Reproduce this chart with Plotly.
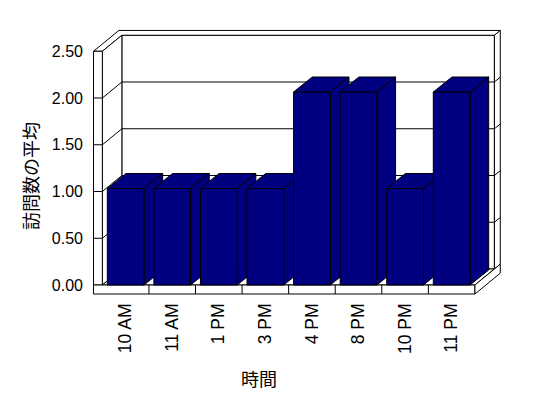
import plotly.graph_objects as go

# ---- data ----
categories = ["10 AM", "11 AM", "1 PM", "3 PM", "4 PM", "8 PM", "10 PM", "11 PM"]
values = [1.0, 1.0, 1.0, 1.0, 2.0, 2.0, 1.0, 2.0]
y_ticks = [0, 0.5, 1.0, 1.5, 2.0, 2.5]
y_tick_labels = ["0.00", "0.50", "1.00", "1.50", "2.00", "2.50"]
y_title = "訪問数の平均"
x_title = "時間"

# ---- geometry (pixels of the 548x398 page) ----
W, H = 548, 398
PL, PR, PT, PB = 93, 501, 29, 295          # plot area
X0PX, XSTEP = 125.65, 46.57                # first category centre, px per category
Y0PX, YSTEP = 285.0, 93.5                  # value 0 on the front plane, px per unit (axis)
YSTEP_BAR = 96.5                           # px per unit for the bars (Excel 3-D quirk)

xr = [(PL - X0PX) / XSTEP, (PR - X0PX) / XSTEP]
yr = [(Y0PX - PB) / YSTEP, (Y0PX - PT) / YSTEP]
y2r = [(Y0PX - PB) / YSTEP_BAR, (Y0PX - PT) / YSTEP_BAR]

n = len(categories)
ymax = y_ticks[-1]
DX, DY = 19.5 / XSTEP, 16.0 / YSTEP        # full depth of the box
BX, BY = 18.7 / XSTEP, 15.0 / YSTEP_BAR    # depth of a bar
TX = 0.19                                  # left wall thickness
TY = 9.0 / YSTEP                           # floor thickness
TZ = 1.3                                   # back wall outer depth
BW = 0.788                                 # bar width
x_lo, x_hi = -0.5, n - 0.5
NAVY = "#000080"


def P(x, y, z):
    return (x + z * DX, y + z * DY)


def poly(pts, fill="white", yref="y"):
    path = "M " + " L ".join(f"{x:.4f},{y:.4f}" for x, y in pts) + " Z"
    return dict(type="path", path=path, xref="x", yref=yref, fillcolor=fill,
                line=dict(color="black", width=1), layer="below")


def seg(p, q, yref="y"):
    return dict(type="line", x0=p[0], y0=p[1], x1=q[0], y1=q[1], xref="x", yref=yref,
                line=dict(color="black", width=1), layer="below")


shapes = []
# back wall front face + gridlines
shapes.append(poly([P(x_lo, 0, 1), P(x_hi, 0, 1), P(x_hi, ymax, 1), P(x_lo, ymax, 1)]))
for t in y_ticks[1:-1]:
    shapes.append(seg(P(x_lo, t, 1), P(x_hi, t, 1)))
# top faces of left wall and back wall
shapes.append(poly([P(x_lo - TX, ymax, 0), P(x_lo, ymax, 0), P(x_lo, ymax, 1), P(x_hi, ymax, 1),
                    P(x_hi, ymax, TZ), P(x_lo - TX, ymax, TZ)]))
# back wall right face
shapes.append(poly([P(x_hi, 0, 1), P(x_hi, 0, TZ), P(x_hi, ymax, TZ), P(x_hi, ymax, 1)]))
for t in y_ticks[1:-1]:
    shapes.append(seg(P(x_hi, t, 1), P(x_hi, t, TZ)))
# left wall inner face + gridlines
shapes.append(poly([P(x_lo, 0, 0), P(x_lo, ymax, 0), P(x_lo, ymax, 1), P(x_lo, 0, 1)]))
for t in y_ticks[1:-1]:
    shapes.append(seg(P(x_lo, t, 0), P(x_lo, t, 1)))
# left wall front face + ticks
shapes.append(poly([P(x_lo - TX, 0, 0), P(x_lo, 0, 0), P(x_lo, ymax, 0), P(x_lo - TX, ymax, 0)]))
for t in y_ticks[1:-1]:
    shapes.append(seg(P(x_lo - TX, t, 0), P(x_lo, t, 0)))
# floor top, front, right
shapes.append(poly([P(x_lo, 0, 0), P(x_hi, 0, 0), P(x_hi, 0, 1), P(x_lo, 0, 1)]))
shapes.append(poly([P(x_lo - TX, -TY, 0), P(x_hi, -TY, 0), P(x_hi, 0, 0), P(x_lo - TX, 0, 0)]))
for i in range(n - 1):
    shapes.append(seg(P(i + 0.5, -TY, 0), P(i + 0.5, 0, 0)))
shapes.append(poly([P(x_hi, -TY, 0), P(x_hi, -TY, TZ), P(x_hi, 0, TZ), P(x_hi, 0, 0)]))

# bar side and top faces (front faces are the bar trace)
for i, v in enumerate(values):
    xl, xr_ = i - BW / 2, i + BW / 2
    shapes.append(poly([(xr_, 0), (xr_, v), (xr_ + BX, v + BY), (xr_ + BX, BY)], fill=NAVY, yref="y2"))
    shapes.append(poly([(xl, v), (xr_, v), (xr_ + BX, v + BY), (xl + BX, v + BY)], fill=NAVY, yref="y2"))

fig = go.Figure()
fig.add_trace(go.Bar(
    x=list(range(n)), y=values, yaxis="y2", width=BW,
    marker=dict(color=NAVY, line=dict(color="black", width=1)),
    hoverinfo="skip", showlegend=False,
))

FONT = "Liberation Sans, Arial, sans-serif"
CJK = "Noto Sans CJK JP, sans-serif"

fig.update_layout(
    width=W, height=H,
    margin=dict(l=PL, r=W - PR, t=PT, b=H - PB, pad=0),
    paper_bgcolor="white", plot_bgcolor="white",
    shapes=shapes,
    showlegend=False,
    xaxis=dict(range=xr, tickmode="array", tickvals=list(range(n)), ticktext=categories,
               tickangle=-90, showgrid=False, zeroline=False, showline=False, ticks="",
               ticklabelstandoff=4,
               tickfont=dict(family=FONT, size=17.5, color="black"), fixedrange=True),
    yaxis=dict(range=yr, tickmode="array", tickvals=y_ticks, ticktext=y_tick_labels,
               showgrid=False, zeroline=False, showline=False, ticks="",
               ticklabelstandoff=9,
               tickfont=dict(family=FONT, size=16, color="black"), fixedrange=True),
    yaxis2=dict(range=y2r, overlaying="y", visible=False, fixedrange=True),
    annotations=[
        dict(text=y_title, xref="paper", yref="y", x=(30 - PL) / (PR - PL), y=(Y0PX - 176) / YSTEP,
             textangle=-90, showarrow=False, xanchor="center", yanchor="middle",
             font=dict(family=CJK, size=18, color="black")),
        dict(text=x_title, xref="x", yref="paper", x=(259 - X0PX) / XSTEP, y=-(377.5 - PB) / (PB - PT),
             showarrow=False, xanchor="center", yanchor="middle",
             font=dict(family=CJK, size=18, color="black")),
    ],
)

fig.write_html("out.html")
